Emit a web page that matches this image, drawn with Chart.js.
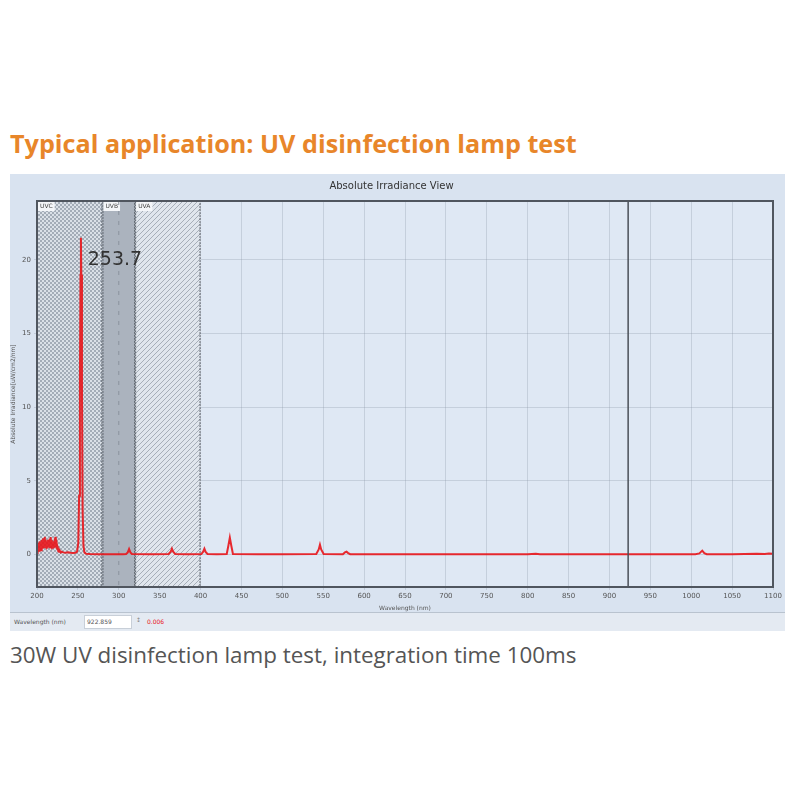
<!DOCTYPE html>
<html>
<head>
<meta charset="utf-8">
<script src="https://cdn.jsdelivr.net/npm/chart.js@4.4.0/dist/chart.umd.min.js"></script>
<style>
  body { margin: 0; background: #fff; width: 800px; height: 800px; position: relative; font-family: "Open Sans", sans-serif; }
  #heading { position: absolute; left: 10px; top: 126px; font-size: 25.2px; font-weight: bold; color: #e8862a; white-space: nowrap; }
  #win { position: absolute; left: 10px; top: 174px; width: 775px; height: 438px; background: #d9e3f0; }
  #status { position: absolute; left: 10px; top: 612px; width: 775px; height: 18px; background: #e4eaf2; border-top: 1px solid #b9c3cf; font-family: "DejaVu Sans", sans-serif; font-size: 6px; color: #555; }
  #status span { position: absolute; top: 5px; }
  #box { position: absolute; left: 74px; top: 2px; width: 44px; height: 12px; background: #fff; border: 1px solid #c8cfd8; font-size: 6px; line-height: 12px; padding-left: 2px; color: #555; }
  #caption { position: absolute; left: 10px; top: 639px; font-size: 22.4px; color: #555; white-space: nowrap; }
</style>
</head>
<body>
<div id="heading">Typical application: UV disinfection lamp test</div>
<div id="win"><canvas id="chart"></canvas></div>
<div id="status">
  <span style="left:4px">Wavelength (nm)</span>
  <div id="box">922.859</div>
  <span style="left:126px;top:3px;color:#888">&#8597;</span>
  <span style="left:137px;color:#e8141a">0.006</span>
</div>
<div id="caption">30W UV disinfection lamp test, integration time 100ms</div>
<script>
// spectrum (nm, uW/cm2/nm)
const wavelengthNm = [
  200, 200.5, 201, 201.5, 202, 202.5, 203, 203.5, 204, 204.5, 205, 205.5, 206, 206.5, 207, 207.5,
  208, 208.5, 209, 209.5, 210, 210.5, 211, 211.5, 212, 212.5, 213, 213.5, 214, 214.5, 215, 215.5,
  216, 216.5, 217, 217.5, 218, 218.5, 219, 219.5, 220, 220.5, 221, 221.5, 222, 222.5, 223, 223.5,
  224, 224.5, 225, 225.5, 226, 226.5, 227, 228, 229, 230,
  232, 235, 238, 241, 244, 247, 249, 250.5, 251.5, 252.5, 253.2, 253.7, 254.2, 255, 255.8, 256.8,
  258, 260, 265, 275, 290, 305, 309, 311, 312.6, 314.2, 316, 340, 361, 363.5, 365, 366.5, 369,
  385, 401, 403.2, 404.7, 406.2, 408.5, 420, 432, 434, 435.8, 437.6, 439.6, 470, 500,
  541.5, 544.5, 546, 547.5, 550.5, 574, 576.5, 578.5, 580.5, 583, 620, 680, 740, 800, 810, 815,
  860, 900, 950, 1005, 1010, 1013.5, 1016, 1019, 1050, 1080, 1090, 1095, 1100
];
const irradiance = [
  0.1, 0.5, 0.2, 0.7, 0.3, 0.8, 0.2, 0.9, 0.4, 0.8, 0.3, 1.0, 0.5, 0.9, 0.4, 1.1,
  0.6, 0.9, 0.5, 1.2, 0.7, 1.0, 0.6, 0.9, 0.4, 0.8, 0.5, 1.0, 0.6, 0.9, 0.5, 1.1,
  0.7, 1.2, 0.6, 1.0, 0.5, 0.8, 0.4, 0.7, 0.5, 0.9, 0.6, 1.1, 0.7, 1.2, 0.5, 0.8,
  0.4, 0.6, 0.3, 0.5, 0.25, 0.4, 0.2, 0.25, 0.15, 0.2,
  0.15, 0.12, 0.15, 0.12, 0.1, 0.12, 0.2, 0.8, 4, 12, 19, 21.5, 19, 11, 3, 0.6,
  0.15, 0.06, 0.04, 0.03, 0.03, 0.03, 0.04, 0.15, 0.38, 0.15, 0.04, 0.03, 0.04, 0.2, 0.4, 0.2, 0.04,
  0.03, 0.04, 0.2, 0.4, 0.18, 0.04, 0.03, 0.04, 0.6, 1.15, 0.6, 0.04, 0.03, 0.03,
  0.04, 0.35, 0.67, 0.35, 0.04, 0.03, 0.15, 0.2, 0.1, 0.03, 0.02, 0.02, 0.02, 0.03, 0.05, 0.02,
  0.02, 0.02, 0.02, 0.03, 0.08, 0.27, 0.1, 0.03, 0.03, 0.05, 0.04, 0.08, 0.05
];
const bandNames = ['UVC', 'UVB', 'UVA'];
const bandStarts = [200, 280, 320];
const bandEnds = [280, 320, 400];
const peakLabel = '253.7';
const cursorNm = 922.859;

const ctx = document.getElementById('chart');

const makePattern = (kind) => {
  const c = document.createElement('canvas');
  const g = c.getContext('2d');
  if (kind === 'check') {
    c.width = 4; c.height = 4;
    g.fillStyle = '#dae0e7'; g.fillRect(0, 0, 4, 4);
    g.fillStyle = '#a3acb7'; g.fillRect(0, 0, 2, 2); g.fillRect(2, 2, 2, 2);
  } else {
    c.width = 5; c.height = 5;
    g.fillStyle = '#e0e6ed'; g.fillRect(0, 0, 5, 5);
    g.strokeStyle = '#a6aeb8'; g.lineWidth = 1;
    g.beginPath(); g.moveTo(0, 5); g.lineTo(5, 0); g.moveTo(-1, 1); g.lineTo(1, -1); g.moveTo(4, 6); g.lineTo(6, 4); g.stroke();
  }
  return g.createPattern(c, 'repeat');
};

const overlay = {
  id: 'overlay',
  beforeDraw(chart) {
    const a = chart.chartArea, c = chart.ctx;
    c.save();
    c.fillStyle = '#dfe8f4';
    c.fillRect(a.left, a.top, a.width, a.height);
    c.restore();
  },
  beforeDatasetsDraw(chart) {
    const a = chart.chartArea, c = chart.ctx, x = chart.scales.x;
    const fills = [makePattern('check'), '#abb3be', makePattern('hatch')];
    c.save();
    bandNames.forEach((name, i) => {
      const l = x.getPixelForValue(bandStarts[i]), r = x.getPixelForValue(bandEnds[i]);
      c.fillStyle = fills[i];
      c.fillRect(l, a.top, r - l, a.height);
      c.strokeStyle = '#5a6069'; c.lineWidth = 1; c.setLineDash([2, 1]);
      c.strokeRect(l + 0.5, a.top + 0.5, r - l - 1, a.height - 1);
      c.setLineDash([]);
      c.font = '6px "DejaVu Sans"';
      const w = c.measureText(name).width + 4;
      c.fillStyle = '#f4f6f9';
      c.fillRect(l + 1, a.top + 1, w, 9);
      c.fillStyle = '#444';
      c.textBaseline = 'middle';
      c.fillText(name, l + 3, a.top + 5.5);
    });
    // dashed 300 nm grid line shows through the UVB band
    const g = x.getPixelForValue(300);
    c.strokeStyle = '#8a929d'; c.setLineDash([4, 6]);
    c.beginPath(); c.moveTo(g, a.top); c.lineTo(g, a.bottom); c.stroke();
    c.restore();
  },
  afterDraw(chart) {
    const a = chart.chartArea, c = chart.ctx, x = chart.scales.x, y = chart.scales.y;
    c.save();
    c.strokeStyle = '#4a4f58'; c.lineWidth = 1.5;
    const cx = x.getPixelForValue(cursorNm);
    c.beginPath(); c.moveTo(cx, a.top); c.lineTo(cx, a.bottom); c.stroke();
    c.strokeStyle = '#50565f'; c.lineWidth = 2;
    c.strokeRect(a.left, a.top, a.width, a.height);
    c.font = '19px "DejaVu Sans"';
    c.fillStyle = '#333';
    c.textBaseline = 'middle';
    c.fillText(peakLabel, x.getPixelForValue(262), y.getPixelForValue(20));
    c.restore();
  }
};

new Chart(ctx, {
  type: 'line',
  data: {
    datasets: [{
      data: wavelengthNm.map((w, i) => ({ x: w, y: irradiance[i] })),
      borderColor: 'rgba(232,20,26,0.9)',
      borderWidth: 2,
      pointRadius: 0,
      tension: 0,
      fill: false,
    }]
  },
  options: {
    responsive: true,
    maintainAspectRatio: false,
    animation: false,
    layout: { padding: { left: 0, right: 12, top: 0, bottom: 0 } },
    plugins: {
      legend: { display: false },
      tooltip: { enabled: false },
      title: {
        display: true,
        text: 'Absolute Irradiance View',
        color: '#333',
        font: { family: 'DejaVu Sans', size: 10, weight: 'normal', lineHeight: 1.2 },
        padding: { top: 6, bottom: 9 },
      },
    },
    scales: {
      x: {
        type: 'linear',
        min: 200,
        max: 1100,
        afterFit: (s) => { s.height = 25; },
        ticks: { stepSize: 50, color: '#555', font: { family: 'DejaVu Sans', size: 7 }, padding: 2, maxRotation: 0, callback: (v) => String(v) },
        grid: { color: 'rgba(140,150,165,0.3)', tickLength: 3 },
        border: { display: false },
        title: { display: true, text: 'Wavelength (nm)', color: '#555', font: { family: 'DejaVu Sans', size: 6 }, padding: 0 },
      },
      y: {
        min: -2.2,
        max: 24,
        afterFit: (s) => { s.width = 27; },
        ticks: { stepSize: 5, includeBounds: false, color: '#555', font: { family: 'DejaVu Sans', size: 7 }, padding: 3 },
        grid: { color: 'rgba(140,150,165,0.3)', tickLength: 3 },
        border: { display: false },
        title: { display: true, text: 'Absolute Irradiance[uW/cm2/nm]', color: '#555', font: { family: 'DejaVu Sans', size: 6 }, padding: 0 },
      }
    }
  },
  plugins: [overlay]
});
</script>
</body>
</html>
